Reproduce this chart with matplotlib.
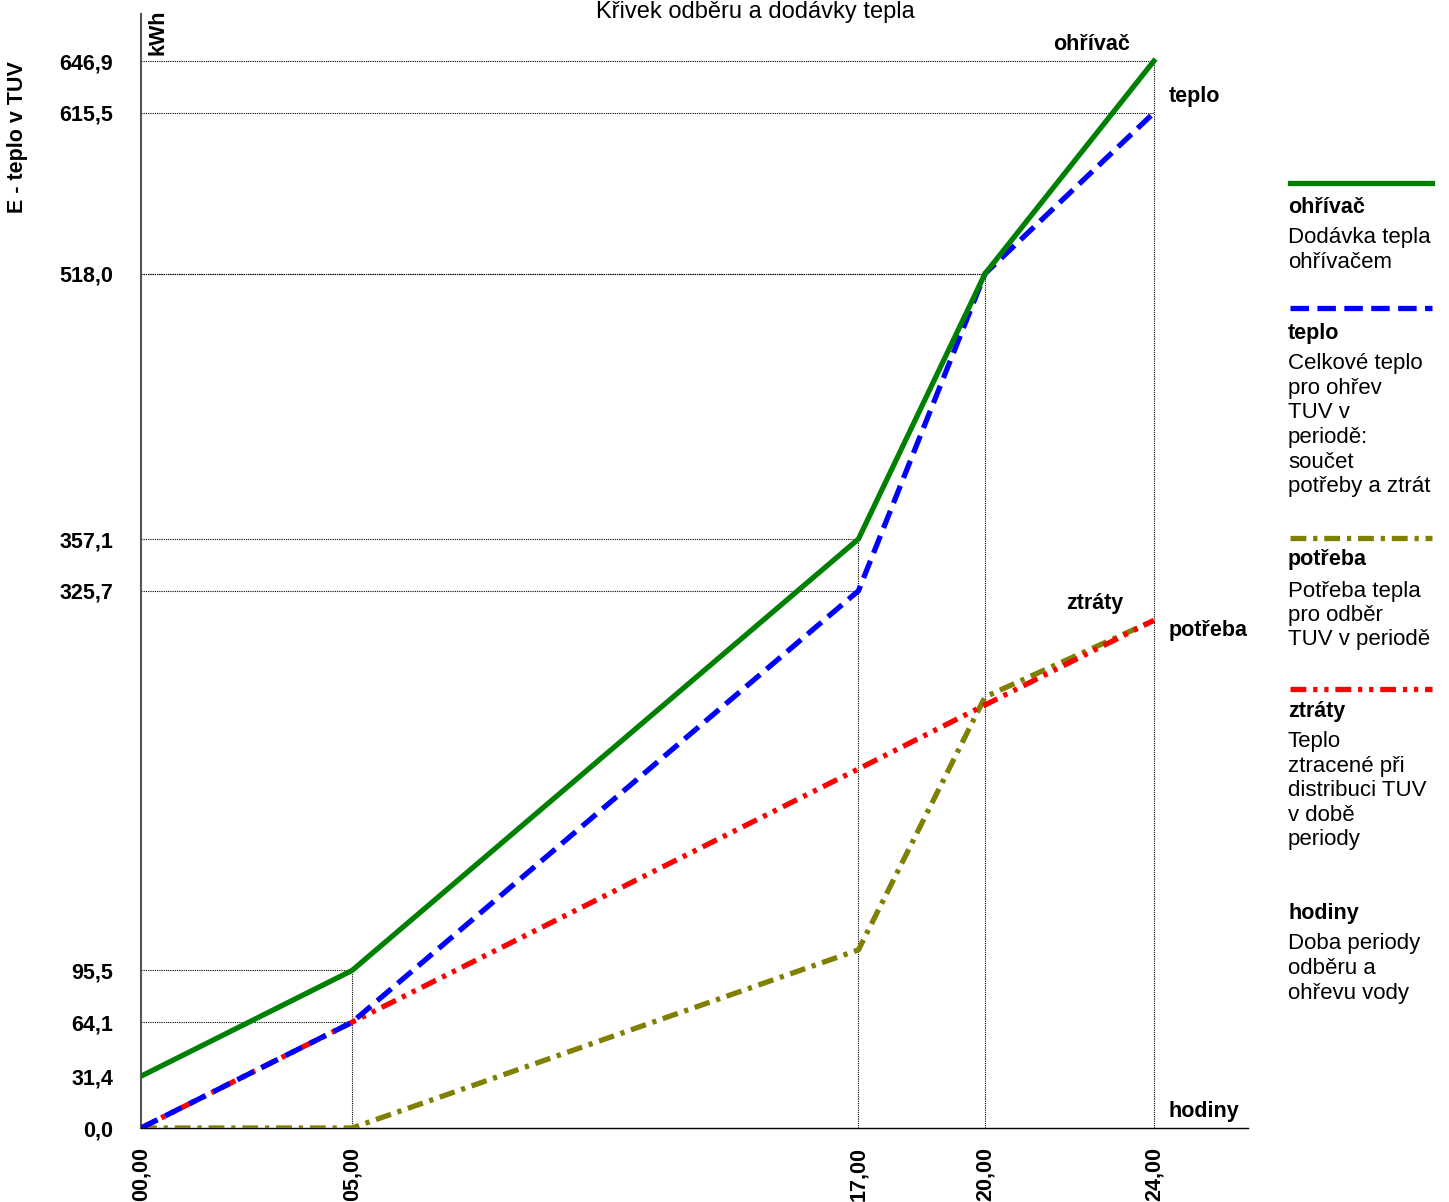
import matplotlib
matplotlib.use("Agg")
import matplotlib.pyplot as plt

plt.rcParams["font.family"] = ["Liberation Sans", "DejaVu Sans"]

hours = [0, 5, 17, 20, 24]
hour_labels = ["00,00", "05,00", "17,00", "20,00", "24,00"]
ohrivac = [31.4, 95.5, 357.1, 518.0, 646.9]
teplo = [0.0, 64.1, 325.7, 518.0, 615.5]
potreba = [0.0, 0.0, 108.0, 261.4, 307.7]
ztraty = [0.0, 64.1, 217.7, 256.5, 307.8]

legend_items = [
    ("ohřívač", ["Dodávka tepla", "ohřívačem"]),
    ("teplo", ["Celkové teplo", "pro ohřev", "TUV v", "periodě:", "součet", "potřeby a ztrát"]),
    ("potřeba", ["Potřeba tepla", "pro odběr", "TUV v periodě"]),
    ("ztráty", ["Teplo", "ztracené při", "distribuci TUV", "v době", "periody"]),
    ("hodiny", ["Doba periody", "odběru a", "ohřevu vody"]),
]

W, H = 1449, 1202
BOLD = 15.5
fig = plt.figure(figsize=(W / 100, H / 100), dpi=100)
ax = fig.add_axes([141 / W, 1 - 1128 / H, (1248 - 141) / W, (1128 - 14) / H])
ax.set_xlim(0, 26.23)
ax.set_ylim(0, 675.4)

for s in ["top", "right"]:
    ax.spines[s].set_visible(False)
ax.spines["left"].set_color("#555555")
ax.spines["left"].set_linewidth(1.5)
ax.spines["bottom"].set_color("black")
ax.spines["bottom"].set_linewidth(1.0)

# dotted guide lines
grid_kw = dict(color="black", lw=0.8, ls=(0, (1, 1)), zorder=1)
for h, a, b in zip(hours, ohrivac, teplo):
    if h == 0:
        continue
    ax.plot([0, h], [a, a], **grid_kw)
    ax.plot([0, h], [b, b], **grid_kw)
    ax.plot([h, h], [0, max(a, b)], **grid_kw)

lw = 3.8
ax.plot(hours, potreba, color="#808000", lw=lw, dashes=(3, 1.3, 0.8, 1.3), zorder=3)
ax.plot(hours, ztraty, color="#ff0000", lw=lw, dashes=(3, 1.3, 0.8, 1.3, 0.8, 1.3), zorder=4)
ax.plot(hours, teplo, color="#0000ff", lw=lw, dashes=(3.5, 1.6), zorder=5)
ax.plot(hours, ohrivac, color="#008000", lw=lw, zorder=6)

ax.set_xticks(hours)
ax.set_xticklabels(hour_labels, rotation=90, fontsize=BOLD, fontweight="bold")
yt = sorted(set(ohrivac + teplo + [0.0]))
ax.set_yticks(yt)
ax.set_yticklabels([f"{v:.1f}".replace(".", ",") for v in yt], fontsize=BOLD, fontweight="bold")
ax.tick_params(axis="both", length=0)
ax.tick_params(axis="y", pad=20)
ax.tick_params(axis="x", pad=14)

# line name labels
ax.text(22.53, ohrivac[-1] + 10, "ohřívač", fontsize=BOLD,
        fontweight="bold", ha="center", va="center")
ax.text(24.35, teplo[-1] + 10, "teplo", fontsize=BOLD, fontweight="bold", va="center")
ax.text(22.6, ztraty[-1] + 10, "ztráty", fontsize=BOLD, fontweight="bold", ha="center", va="center")
ax.text(24.35, potreba[-1] - 6, "potřeba", fontsize=BOLD, fontweight="bold", va="center")
ax.text(24.35, 10, "hodiny", fontsize=BOLD, fontweight="bold", va="center")

fig.text(755 / W, 1 - 12 / H, "Křivek odběru a dodávky tepla", fontsize=17,
         ha="center", va="center")
fig.text(18 / W, 1 - 137 / H, "E - teplo v TUV", fontsize=BOLD, fontweight="bold",
         rotation=90, ha="center", va="center")
fig.text(158 / W, 1 - 32 / H, "kWh", fontsize=BOLD, fontweight="bold",
         rotation=90, ha="center", va="center")

# legend on the right
styles = [
    dict(color="#008000"),
    dict(color="#0000ff", dashes=(3.5, 1.6)),
    dict(color="#808000", dashes=(3, 1.3, 0.8, 1.3)),
    dict(color="#ff0000", dashes=(3, 1.3, 0.8, 1.3, 0.8, 1.3)),
    None,
]
line_y = [183, 308, 538, 689, None]
title_y = [207, 333, 560, 711, 913]
for (name, desc), st, ly, ty in zip(legend_items, styles, line_y, title_y):
    if st is not None:
        fig.add_artist(plt.Line2D([1290 / W, 1432 / W], [1 - ly / H, 1 - ly / H],
                                  lw=lw, transform=fig.transFigure, **st))
    fig.text(1288 / W, 1 - ty / H, name, fontsize=BOLD, fontweight="bold", va="center")
    for i, d in enumerate(desc):
        y = ty + 31 + i * 24.5
        fig.text(1288 / W, 1 - y / H, d, fontsize=16, va="center")

fig.savefig("out.png", dpi=100)
